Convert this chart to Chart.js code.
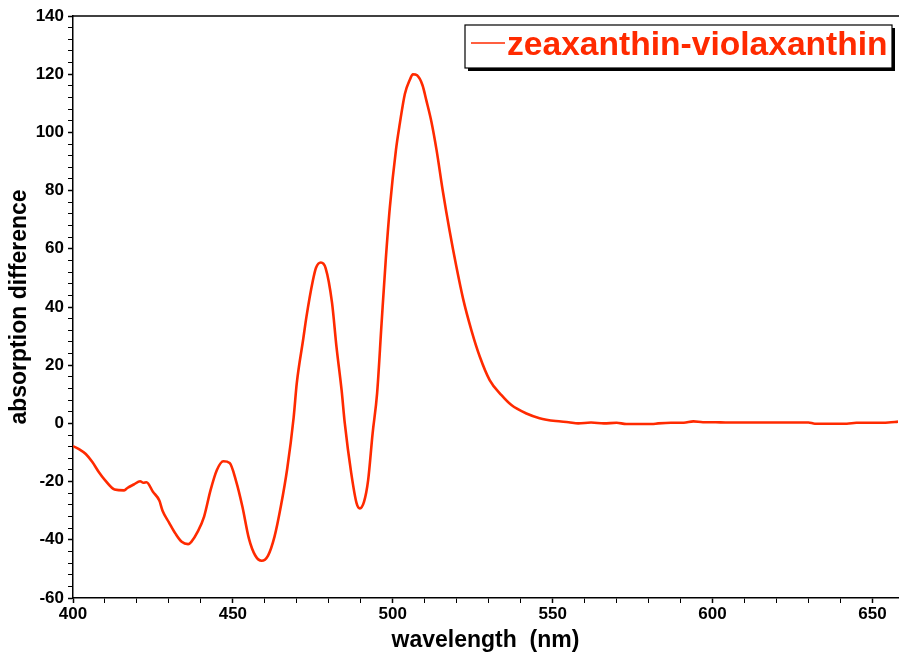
<!DOCTYPE html>
<html>
<head>
<meta charset="utf-8">
<title>zeaxanthin-violaxanthin</title>
<script src="https://cdn.jsdelivr.net/npm/chart.js@4/dist/chart.umd.min.js"></script>
<style>
  html, body { margin: 0; padding: 0; background: #fff; }
  canvas { display: block; }
</style>
</head>
<body>
<canvas id="myChart" width="899" height="654"></canvas>
<script>
// difference spectrum, wavelength in nm
const wavelengths = [
  400, 402, 404, 406, 408, 410, 413, 416, 417, 419, 421, 422, 423, 425, 427, 428,
  430, 432, 434, 436, 437, 439, 441, 443, 445, 447, 449, 451, 453, 455, 457, 459,
  461, 463, 465, 467, 469, 470, 472, 473, 475, 476, 477.5, 479, 481, 482.4, 484, 485,
  487, 488.7, 489.7, 491, 492.3, 493.7, 495.1, 496.5, 497.8, 499.1, 501, 502.2, 503.8, 505.3,
  506.3, 507.6, 509.3, 510.5, 512.1, 513.7, 515.7, 517.8, 519.9, 522, 524.6, 527.2, 530.3, 534,
  537.1, 541.8, 545.9, 551, 555, 558, 562, 566, 570, 573, 578, 581, 583, 587, 591, 594,
  597, 601, 604, 630, 632, 642, 645, 650, 655, 658
];
const absDiff = [
  -7.8, -8.9, -10.5, -13.2, -16.6, -19.5, -22.7, -23.0, -22.2, -21.0, -19.9, -20.4, -20.2, -23.5, -26.5, -30.0,
  -34.0, -37.8, -40.7, -41.5, -40.7, -37.2, -32.0, -23.0, -16.0, -13.0, -13.6, -19.8, -28.7, -39.5, -45.4, -47.2,
  -45.4, -39.0, -28.5, -15.5, 2.0, 14.0, 29.0, 36.6, 49.0, 53.5, 55.3, 53.4, 41.5, 26.3, 11.4, 0.0,
  -17.0, -27.5, -29.2, -27.0, -19.5, -3.4, 10.3, 34.4, 56.1, 74.4, 94.0, 103.0, 113.3, 118.0,
  120.0, 119.6, 116.2, 111.0, 103.6, 93.9, 79.5, 66.0, 53.8, 42.8, 32.0, 23.0, 14.9, 9.7,
  6.3, 3.4, 1.8, 0.8, 0.4, 0.0, 0.3, 0.0, 0.2, -0.2, -0.2, -0.2, 0.0, 0.2, 0.2, 0.7,
  0.4, 0.4, 0.3, 0.3, -0.1, -0.1, 0.2, 0.2, 0.3, 0.6
];
const seriesLabel = "zeaxanthin-violaxanthin";
const lineColor = "#ff2a00";
const fontFamily = "'Liberation Sans', Arial, Helvetica, sans-serif";

// frame line along the top of the plot
const topBorder = {
  id: "topBorder",
  afterDraw(chart) {
    const { ctx, chartArea } = chart;
    ctx.save();
    ctx.strokeStyle = "#000";
    ctx.lineWidth = 1.5;
    ctx.beginPath();
    ctx.moveTo(chartArea.left, chartArea.top);
    ctx.lineTo(chartArea.right + 2, chartArea.top);
    ctx.stroke();
    ctx.restore();
  }
};

// boxed legend with a drop shadow, top right inside the plot
const boxLegend = {
  id: "boxLegend",
  afterDraw(chart) {
    const { ctx } = chart;
    const ds = chart.data.datasets[0];
    const x = 465, y = 25, w = 427, h = 43;
    ctx.save();
    ctx.fillStyle = "#000";
    ctx.fillRect(x + 3, y + 3, w, h);
    ctx.fillStyle = "#fff";
    ctx.fillRect(x, y, w, h);
    ctx.strokeStyle = "#000";
    ctx.lineWidth = 1.2;
    ctx.strokeRect(x, y, w, h);
    ctx.strokeStyle = ds.borderColor;
    ctx.lineWidth = 1.5;
    ctx.beginPath();
    ctx.moveTo(x + 6, y + 18);
    ctx.lineTo(x + 40, y + 18);
    ctx.stroke();
    ctx.fillStyle = ds.borderColor;
    ctx.font = "bold 33.6px " + fontFamily;
    ctx.textBaseline = "middle";
    ctx.fillText(ds.label, x + 42, y + 21);
    ctx.restore();
  }
};

const ctx = document.getElementById("myChart").getContext("2d");
const myChart = new Chart(ctx, {
  type: "line",
  data: {
    datasets: [
      {
        label: seriesLabel,
        data: wavelengths.map((w, i) => ({ x: w, y: absDiff[i] })),
        borderColor: lineColor,
        borderWidth: 2.6,
        pointRadius: 0,
        cubicInterpolationMode: "monotone",
        fill: false
      }
    ]
  },
  options: {
    responsive: false,
    animation: false,
    devicePixelRatio: 1,
    layout: { padding: { top: 16, right: 1, left: 0, bottom: 0 } },
    plugins: {
      legend: { display: false },
      tooltip: { enabled: false }
    },
    scales: {
      x: {
        type: "linear",
        min: 400,
        max: 658,
        afterFit(scale) { scale.height = 56; },
        border: { color: "#000", width: 1.5 },
        grid: {
          drawOnChartArea: false,
          tickLength: 5,
          tickColor: "#000",
          tickWidth: (c) => (c.tick && c.tick.value % 50 === 0 ? 1.5 : 1)
        },
        ticks: {
          stepSize: 10,
          includeBounds: false,
          autoSkip: false,
          maxRotation: 0,
          padding: 1,
          color: "#000",
          font: { family: fontFamily, size: 17, weight: "bold" },
          callback: (v) => (v % 50 === 0 ? v : "")
        },
        title: {
          display: true,
          text: "wavelength  (nm)",
          color: "#000",
          font: { family: fontFamily, size: 23, weight: "bold" },
          padding: { top: 0, bottom: 0 }
        }
      },
      y: {
        min: -60,
        max: 140,
        afterFit(scale) { scale.width = 73; },
        border: { color: "#000", width: 1.5 },
        grid: {
          drawOnChartArea: false,
          tickLength: 5,
          tickColor: "#000",
          tickWidth: (c) => (c.tick && c.tick.value % 20 === 0 ? 1.5 : 1)
        },
        ticks: {
          stepSize: 4,
          autoSkip: false,
          padding: 4,
          color: "#000",
          font: { family: fontFamily, size: 17, weight: "bold" },
          callback: (v) => (v % 20 === 0 ? v : "")
        },
        title: {
          display: true,
          text: "absorption difference",
          color: "#000",
          font: { family: fontFamily, size: 23, weight: "bold" },
          padding: { top: 6, bottom: 0 }
        }
      }
    }
  },
  plugins: [topBorder, boxLegend]
});
</script>
</body>
</html>
